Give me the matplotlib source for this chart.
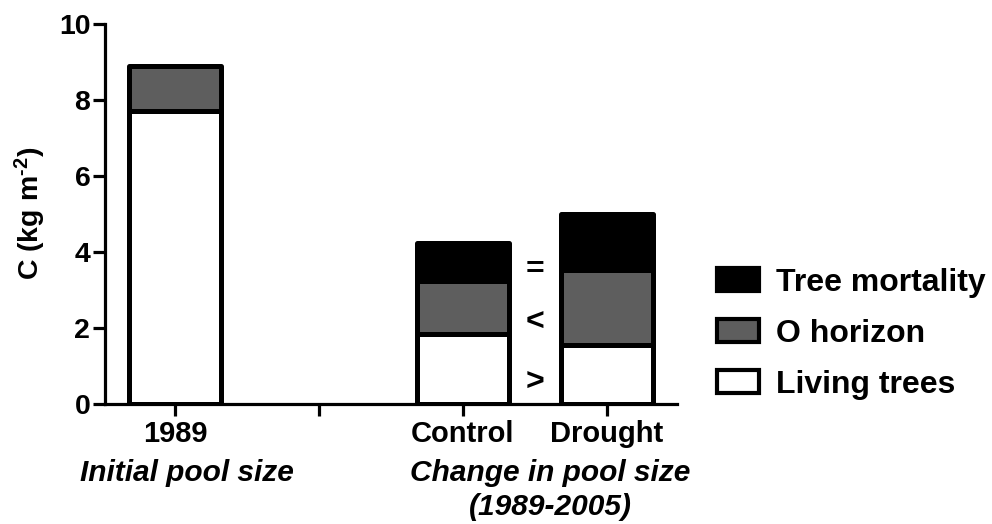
import matplotlib
matplotlib.use("Agg")
import matplotlib.pyplot as plt
import numpy as np
from matplotlib.patches import Patch

plt.rcParams['font.family'] = ['Liberation Sans', 'DejaVu Sans']
plt.rcParams['font.weight'] = 'bold'
plt.rcParams['mathtext.fontset'] = 'custom'
plt.rcParams['mathtext.rm'] = 'Liberation Sans:bold'
plt.rcParams['mathtext.default'] = 'rm'

# ---- data ----
tick_labels = ['1989', '', 'Control', 'Drought']
bar_positions = [0, 2, 3]
living_trees = [7.7, 1.84, 1.55]
o_horizon = [1.2, 1.38, 1.98]
tree_mortality = [np.nan, 1.01, 1.47]
series_names = ['Tree mortality', 'O horizon', 'Living trees']
group_labels = ['Initial pool size', 'Change in pool size\n(1989-2005)']
group_x = [0.08, 2.61]
comparisons = ['=', '<', '>']
comparison_y = [3.52, 2.13, 0.55]

fig = plt.figure(figsize=(9.92, 5.24), dpi=100)
ax = fig.add_axes([105/992, 1-403.5/524, (677-105)/992, (403.5-24)/524])

lw = 3.6
width = 0.64
gray = '#5e5e5e'
liv = np.array(living_trees)
oh = np.array(o_horizon)
mo = np.array(tree_mortality)
ax.bar(bar_positions, liv, width=width, color='white', edgecolor='black', linewidth=lw, joinstyle='round', zorder=2)
ax.bar(bar_positions, oh, bottom=liv, width=width, color=gray, edgecolor='black', linewidth=lw, joinstyle='round', zorder=2)
mask = ~np.isnan(mo)
ax.bar(np.array(bar_positions)[mask], mo[mask], bottom=(liv+oh)[mask], width=width, color='black', edgecolor='black', linewidth=lw, joinstyle='round', zorder=2)

ax.set_xlim(-0.49, 3.49)
ax.set_ylim(0, 10)
ax.set_yticks([0, 2, 4, 6, 8, 10])
ax.set_xticks(range(len(tick_labels)))
ax.set_xticklabels(tick_labels)
for s in ['top', 'right']:
    ax.spines[s].set_visible(False)
for s in ['left', 'bottom']:
    ax.spines[s].set_linewidth(2.3)
ax.tick_params(axis='both', width=2.3, length=8.6)
ax.tick_params(axis='x', pad=3, labelsize=21)
ax.tick_params(axis='y', pad=2, labelsize=20.5)
for lab in ax.get_xticklabels() + ax.get_yticklabels():
    lab.set_fontweight('bold')

ax.set_ylabel(r'C (kg m$^{\text{-}2}$)', fontsize=20.5, fontweight='bold', labelpad=8)

for sym, yv in zip(comparisons, comparison_y):
    ax.text(2.5, yv, sym, ha='center', va='center', fontsize=23, fontweight='bold')

trans = ax.get_xaxis_transform()
for lab, xv in zip(group_labels, group_x):
    ax.text(xv, -0.145, lab, transform=trans, ha='center', va='top', fontsize=21.5,
            fontweight='bold', fontstyle='italic', linespacing=1.3)

handles = [Patch(facecolor='black', edgecolor='black', linewidth=3, joinstyle='round'),
           Patch(facecolor=gray, edgecolor='black', linewidth=3, joinstyle='round'),
           Patch(facecolor='white', edgecolor='black', linewidth=3, joinstyle='round')]
leg = fig.legend(handles, series_names, loc='center left', bbox_to_anchor=(717/992, 1-334/524),
                 frameon=False, prop={'size': 23, 'weight': 'bold'},
                 handlelength=1.33, handleheight=0.73, handletextpad=0.52, labelspacing=0.66,
                 borderaxespad=0, borderpad=0)

fig.savefig('out.png', dpi=100)
